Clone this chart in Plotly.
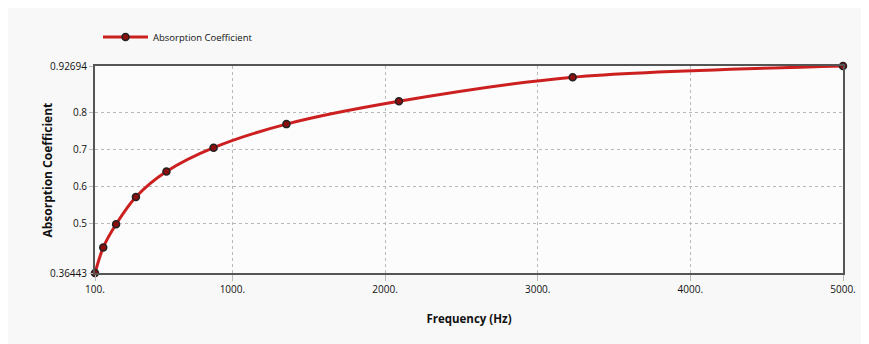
import plotly.graph_objects as go

frequency_hz = [100, 154, 238, 368, 568, 877, 1354, 2091, 3229, 5000]
absorption = [0.36443, 0.434, 0.497, 0.571, 0.640, 0.705, 0.769, 0.831, 0.8965, 0.92694]

x_tick_vals = [100, 1000, 2000, 3000, 4000, 5000]
x_tick_text = ["100.", "1000.", "2000.", "3000.", "4000.", "5000."]
y_tick_vals = [0.36443, 0.5, 0.6, 0.7, 0.8, 0.92694]
y_tick_text = ["0.36443", "0.5", "0.6", "0.7", "0.8", "0.92694"]

FONT = "Open Sans, sans-serif"

fig = go.Figure()
fig.add_trace(go.Scatter(
    x=frequency_hz, y=absorption, mode="lines+markers",
    name="Absorption Coefficient",
    line=dict(color="#cc1f1f", width=3, shape="spline", smoothing=0.8),
    marker=dict(size=7, color="#8b0f0f", line=dict(color="#222222", width=1.5)),
    cliponaxis=False,
))

W, H = 861, 336
L, R, T, B = 87, 26, 58, 71
plot_w = W - L - R

fig.update_layout(
    width=W, height=H,
    margin=dict(l=L, r=R, t=T, b=B),
    paper_bgcolor="#f8f8f8",
    plot_bgcolor="#fcfcfc",
    font=dict(family=FONT, size=10, color="#111111"),
    showlegend=True,
    legend=dict(x=3 / plot_w, y=1.14, xanchor="left", yanchor="middle",
                bgcolor="rgba(0,0,0,0)", font=dict(size=9.5),
                itemwidth=45),
    xaxis=dict(
        range=[100, 5000], tickvals=x_tick_vals, ticktext=x_tick_text,
        showgrid=True, gridcolor="#b8b8b8", griddash="dot", gridwidth=1,
        showline=True, linecolor="#555555", linewidth=2, mirror=True,
        ticks="outside", ticklen=6, tickcolor="#b8b8b8",
        zeroline=False,
        title=dict(text="<b>Frequency (Hz)</b>", font=dict(size=11.5), standoff=20),
    ),
    yaxis=dict(
        range=[0.36443, 0.92694], tickvals=y_tick_vals, ticktext=y_tick_text,
        showgrid=True, gridcolor="#b8b8b8", griddash="dot", gridwidth=1,
        showline=True, linecolor="#555555", linewidth=2, mirror=True,
        ticks="outside", ticklen=4, tickcolor="#b8b8b8",
        zeroline=False,
    ),
    annotations=[dict(
        text="<b>Absorption Coefficient</b>", textangle=-90,
        xref="paper", yref="paper", x=(39 - L) / plot_w, y=0.5,
        xanchor="center", yanchor="middle", showarrow=False,
        font=dict(size=12, family=FONT, color="#111111"),
    )],
)

fig.write_html("out.html")
